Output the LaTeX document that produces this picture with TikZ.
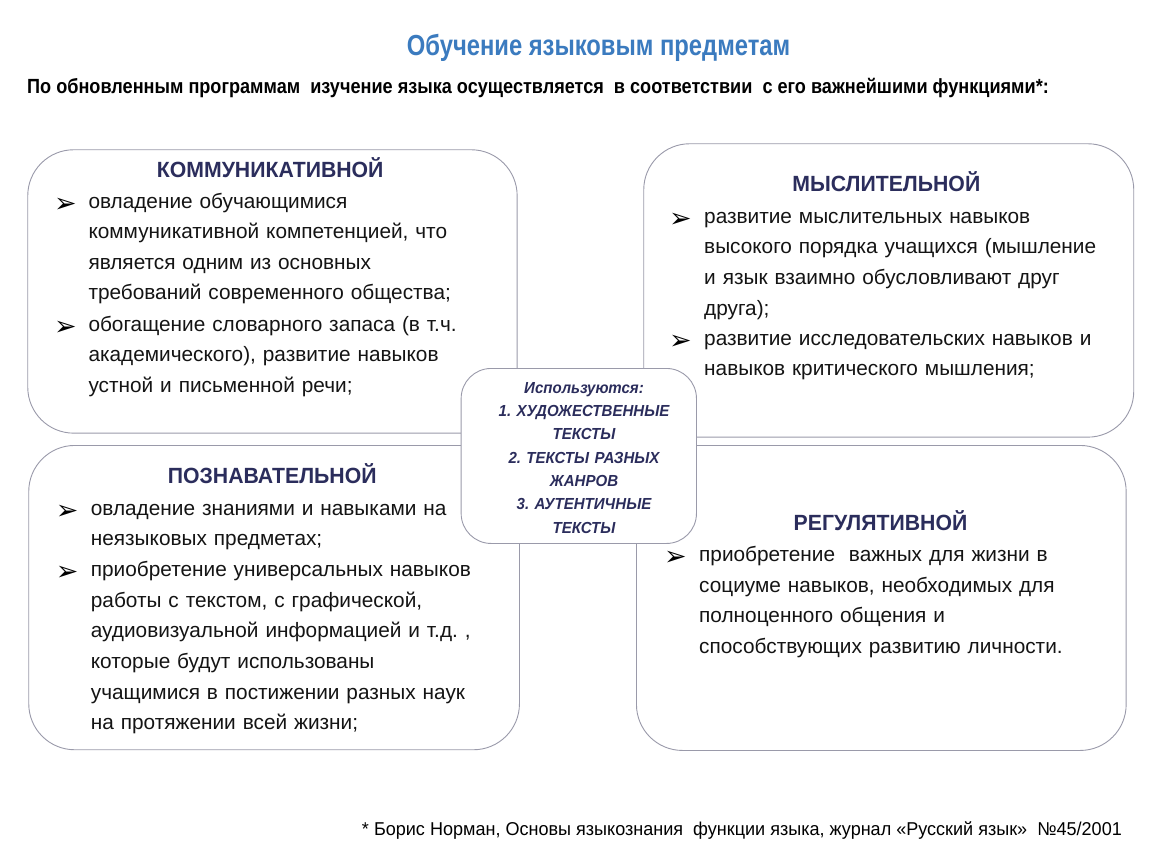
\documentclass[tikz,border=0pt]{standalone}
\usepackage{fontspec}
\setmainfont{Liberation Sans}
\newfontfamily\bodyfamily{Liberation Sans}
\newfontfamily\headfamily[FakeStretch=0.965]{Liberation Sans}
\newfontfamily\titlefamily[FakeStretch=0.82]{Liberation Sans}
\newfontfamily\subfamily[FakeStretch=0.883]{Liberation Sans}
\newfontfamily\footfamily[FakeStretch=0.97]{Liberation Sans}
\newfontfamily\centerfamily[FakeStretch=0.94]{Liberation Sans}
\newfontfamily\dejavu{DejaVu Sans}
\frenchspacing
\definecolor{titleblue}{HTML}{3B7BBF}
\definecolor{navy}{HTML}{2B2D5C}
\definecolor{boxgray}{HTML}{9A9AAA}
\definecolor{textblack}{HTML}{141414}
\tikzset{
  panel/.style={draw=boxgray, line width=0.9pt, rounded corners=46pt, fill=white,
    rectangle, inner sep=0pt, anchor=north west},
  centerpanel/.style={panel, rounded corners=30pt},
  head/.style={font=\headfamily\bfseries\fontsize{22}{26}\selectfont, text=navy, anchor=base, inner sep=0pt},
  body/.style={font=\bodyfamily\fontsize{20.8}{30.6}\selectfont, text=textblack, anchor=base west,
    align=left, text width=440pt, inner sep=0pt},
  bul/.style={font=\dejavu\fontsize{27}{28}\selectfont, text=black, anchor=base west, inner sep=0pt,
    yshift=-4pt},
  centertext/.style={font=\centerfamily\bfseries\itshape\fontsize{16}{23.3}\selectfont, text=navy,
    align=center, text width=230pt, anchor=base, inner sep=0pt},
}
\begin{document}
\begin{tikzpicture}[x=1pt,y=-1pt]
\useasboundingbox (0,0) rectangle (1150,864);
\fill[white] (0,0) rectangle (1150,864);

% title and subtitle
\node[font=\titlefamily\bfseries\fontsize{29}{32}\selectfont, text=titleblue, anchor=base west, inner sep=0pt]
  (title) at (406.7,55.7) {Обучение языковым предметам};
\node[font=\subfamily\bfseries\fontsize{20.5}{22}\selectfont, text=black, anchor=base west, inner sep=0pt]
  (subtitle) at (27,94) {По обновленным программам \ изучение языка осуществляется \ в соответствии \ с его важнейшими функциями*:};

% panels
\node[panel, minimum width=489.4pt, minimum height=283.4pt] (b1) at (27.3,149.3) {};
\node[panel, minimum width=490pt, minimum height=293.4pt] (b2) at (643.3,143.3) {};
\node[panel, minimum width=490.7pt, minimum height=304.3pt] (b3) at (28.3,445) {};
\node[panel, minimum width=489.7pt, minimum height=305pt] (b4) at (636,445) {};

% box 1
\node[head] (h1) at (270.2,177) {КОММУНИКАТИВНОЙ};
\node[bul] (p1a) at (54,208) {➢};
\node[body] (t1a) at (88.3,208) {овладение обучающимися\\коммуникативной компетенцией, что\\является одним из основных\\требований современного общества;};
\node[bul] (p1b) at (54,331) {➢};
\node[body] (t1b) at (88.3,331) {обогащение словарного запаса (в т.ч.\\академического), развитие навыков\\устной и письменной речи;};

% box 2
\node[head] (h2) at (886.3,191.7) {МЫСЛИТЕЛЬНОЙ};
\node[bul] (p2a) at (669,223.3) {➢};
\node[body] (t2a) at (704,223.3) {развитие мыслительных навыков\\высокого порядка учащихся (мышление\\и язык взаимно обусловливают друг\\друга);};
\node[bul] (p2b) at (669,345) {➢};
\node[body] (t2b) at (704,345) {развитие исследовательских навыков и\\навыков критического мышления;};

% box 3
\node[head] (h3) at (272.2,483.3) {ПОЗНАВАТЕЛЬНОЙ};
\node[bul] (p3a) at (55.7,515) {➢};
\node[body] (t3a) at (90.7,515) {овладение знаниями и навыками на\\неязыковых предметах;};
\node[bul] (p3b) at (55.7,576.7) {➢};
\node[body] (t3b) at (90.7,576.7) {приобретение универсальных навыков\\работы с текстом, с графической,\\аудиовизуальной информацией и т.д. ,\\которые будут использованы\\учащимися в постижении разных наук\\на протяжении всей жизни;};

% box 4
\node[head] (h4) at (880.5,530.7) {РЕГУЛЯТИВНОЙ};
\node[bul] (p4a) at (664,561.7) {➢};
\node[body] (t4a) at (699,561.7) {приобретение \ важных для жизни в\\социуме навыков, необходимых для\\полноценного общения и\\способствующих развитию личности.};

% center panel
\node[centerpanel, minimum width=235.3pt, minimum height=175pt] (c) at (460.7,368) {};
\node[centertext] (ct) at (584,393.3) {Используются:\\1. ХУДОЖЕСТВЕННЫЕ\\ТЕКСТЫ\\2. ТЕКСТЫ РАЗНЫХ\\ЖАНРОВ\\3. АУТЕНТИЧНЫЕ\\ТЕКСТЫ};

% footnote
\node[font=\footfamily\fontsize{18.6}{20}\selectfont, text=black, anchor=base east, inner sep=0pt]
  (foot) at (1122,835.7) {* Борис Норман, Основы языкознания \ функции языка, журнал «Русский язык» \ №45/2001};
\end{tikzpicture}
\end{document}
